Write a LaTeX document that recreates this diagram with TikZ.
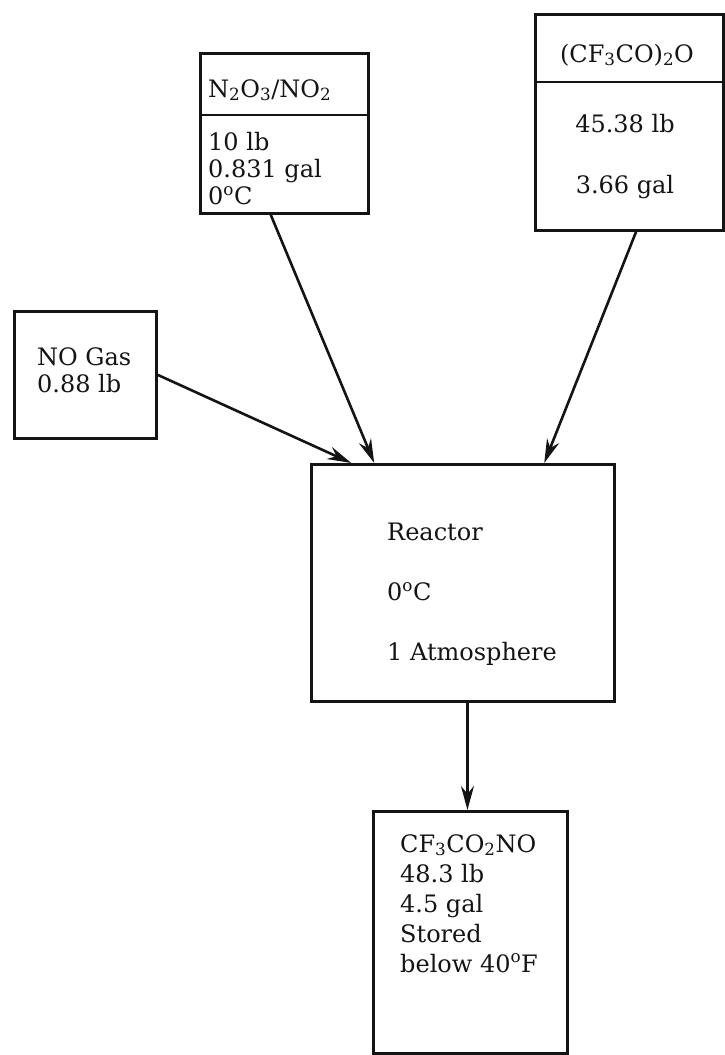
\documentclass[tikz,border=0pt]{standalone}
\usepackage{fontspec}
\setmainfont{DejaVu Serif}
\usetikzlibrary{arrows.meta,calc}
\definecolor{flowInk}{HTML}{141414}
\tikzset{
  every picture/.style={font=\fontsize{24}{27}\selectfont, text=flowInk},
  flow box/.style={draw=flowInk, line width=2.8pt, fill=white, anchor=north west, inner sep=0pt},
  flow rule/.style={draw=flowInk, line width=2.6pt},
  flow text/.style={anchor=north west, align=left, inner sep=0pt},
  flow arrow/.style={-{Stealth[length=24pt,width=13pt]},
    draw=flowInk, line width=2.6pt, line cap=butt}
}

\begin{document}
\begin{tikzpicture}[x=1pt,y=-1pt]
  \useasboundingbox (0,0) rectangle (725,1055);
  % feed boxes
  \node[flow box, minimum width=168pt, minimum height=160pt] (nitro) at (199,52) {};
  \node[flow box, minimum width=188pt, minimum height=216pt] (anhyd) at (534,13) {};
  \node[flow box, minimum width=142pt, minimum height=127pt] (nogas) at (13,310) {};
  \node[flow box, minimum width=303pt, minimum height=237pt] (reactor) at (310,463) {};
  \node[flow box, minimum width=194pt, minimum height=242pt] (product) at (372,810) {};
  \coordinate (nitrocut) at (199,115);
  \coordinate (anhydcut) at (534,82);
  \draw[flow rule] (nitrocut) -- (nitrocut -| nitro.east);
  \draw[flow rule] (anhydcut) -- (anhydcut -| anhyd.east);
  % labels
  \node[anchor=base west, inner sep=0pt] (nitrohead) at (208,97) {N\textsubscript{2}O\textsubscript{3}/NO\textsubscript{2}};
  \node[flow text] (nitrobody) at (208,132) {10 lb\\0.831 gal\\0\textsuperscript{o}C};
  \node[anchor=base, inner sep=0pt] (anhydhead) at (627,62) {(CF\textsubscript{3}CO)\textsubscript{2}O};
  \node[flow text, align=center, anchor=north, font=\fontsize{24}{61}\selectfont] (anhydbody) at (625,114) {45.38 lb\\3.66 gal};
  \node[flow text] (nogasbody) at (37,347) {NO Gas\\0.88 lb};
  \node[flow text, font=\fontsize{24}{60}\selectfont] (reactorbody) at (387,523) {Reactor\\0\textsuperscript{o}C\\1 Atmosphere};
  \node[flow text, font=\fontsize{24}{30}\selectfont] (productbody) at (400,834) {CF\textsubscript{3}CO\textsubscript{2}NO\\48.3 lb\\4.5 gal\\Stored\\below 40\textsuperscript{o}F};
  % flows
  \draw[flow arrow] ($(nitro.south west)!0.42!(nitro.south east)$) -- ($(reactor.north west)!0.21!(reactor.north east)$);
  \draw[flow arrow] ($(anhyd.south west)!0.535!(anhyd.south east)$) -- ($(reactor.north west)!0.766!(reactor.north east)$);
  \draw[flow arrow] (nogas.east) -- ($(reactor.north west)!0.135!(reactor.north east)$);
  \draw[flow arrow] ($(reactor.south west)!0.515!(reactor.south east)$) -- ($(product.north west)!0.485!(product.north east)$);
\end{tikzpicture}
\end{document}
